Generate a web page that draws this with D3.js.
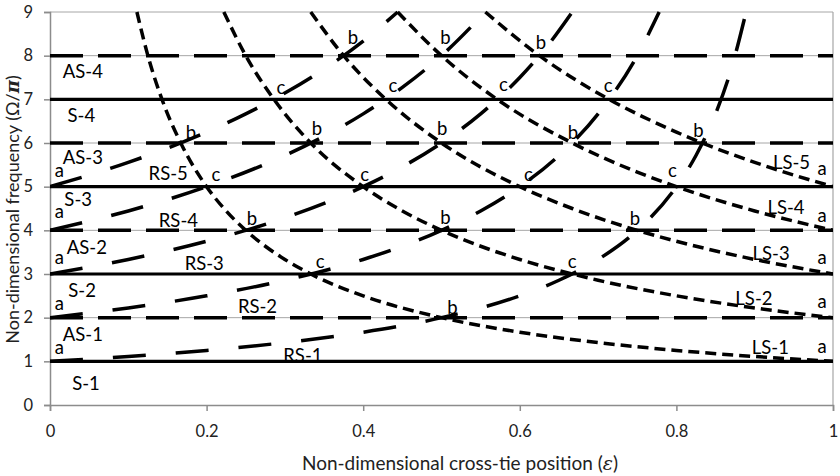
<!DOCTYPE html>
<html>
<head>
<meta charset="utf-8">
<script src="https://cdn.jsdelivr.net/npm/d3@7"></script>
<style>
  body { margin: 0; background: #fff; }
  svg text { font-family: Lato, "Open Sans", sans-serif; }
</style>
</head>
<body>
<div id="chart"></div>
<script>
// tick values and labels
var xTicks = [0, 0.2, 0.4, 0.6, 0.8, 1];
var xTickLabels = ["0", "0.2", "0.4", "0.6", "0.8", "1"];
var yTicks = [0, 1, 2, 3, 4, 5, 6, 7, 8, 9];

// symmetric (solid) and antisymmetric (dashed) modes
var sLevels = [1, 3, 5, 7];
var asLevels = [2, 4, 6, 8];

// right-span curves RS-1..RS-5, [eps, freq]
var rs1 = [[0,1],[0.1,1.111],[0.2,1.25],[0.3,1.429],[0.4,1.667],[0.5,2],[0.6,2.5],[0.65,2.857],[0.7,3.333],[0.75,4],[0.8,5],[0.825,5.714],[0.85,6.667],[0.87,7.692],[0.889,9]];
var rs2 = [[0,2],[0.1,2.222],[0.2,2.5],[0.3,2.857],[0.4,3.333],[0.5,4],[0.55,4.444],[0.6,5],[0.65,5.714],[0.7,6.667],[0.75,8],[0.778,9]];
var rs3 = [[0,3],[0.1,3.333],[0.2,3.75],[0.3,4.286],[0.4,5],[0.45,5.455],[0.5,6],[0.55,6.667],[0.6,7.5],[0.64,8.333],[0.667,9]];
var rs4 = [[0,4],[0.1,4.444],[0.2,5],[0.3,5.714],[0.35,6.154],[0.4,6.667],[0.45,7.273],[0.5,8],[0.556,9]];
var rs5 = [[0,5],[0.1,5.556],[0.15,5.882],[0.2,6.25],[0.25,6.667],[0.3,7.143],[0.35,7.692],[0.4,8.333],[0.444,9]];

// left-span curves LS-1..LS-5
var ls1 = [[0.111,9],[0.125,8],[0.143,7],[0.167,6],[0.2,5],[0.225,4.444],[0.25,4],[0.275,3.636],[0.3,3.333],[0.333,3],[0.4,2.5],[0.5,2],[0.6,1.667],[0.7,1.429],[0.8,1.25],[0.9,1.111],[1,1]];
var ls2 = [[0.222,9],[0.25,8],[0.286,7],[0.333,6],[0.4,5],[0.45,4.444],[0.5,4],[0.6,3.333],[0.667,3],[0.7,2.857],[0.8,2.5],[0.9,2.222],[1,2]];
var ls3 = [[0.333,9],[0.375,8],[0.429,7],[0.5,6],[0.6,5],[0.667,4.5],[0.75,4],[0.8,3.75],[0.9,3.333],[1,3]];
var ls4 = [[0.444,9],[0.5,8],[0.571,7],[0.667,6],[0.75,5.333],[0.8,5],[0.9,4.444],[1,4]];
var ls5 = [[0.556,9],[0.625,8],[0.714,7],[0.8,6.25],[0.833,6],[0.9,5.556],[1,5]];

// curve names and labels [eps, freq, text]
var modeLabels = [
  [0.046,0.50,"S-1"],[0.042,1.61,"AS-1"],[0.041,2.63,"S-2"],[0.047,3.61,"AS-2"],
  [0.036,4.71,"S-3"],[0.042,5.67,"AS-3"],[0.040,6.64,"S-4"],[0.042,7.65,"AS-4"],
  [0.323,1.14,"RS-1"],[0.265,2.26,"RS-2"],[0.197,3.25,"RS-3"],[0.164,4.23,"RS-4"],[0.151,5.31,"RS-5"],
  [0.920,1.32,"LS-1"],[0.899,2.44,"LS-2"],[0.921,3.48,"LS-3"],[0.940,4.53,"LS-4"],[0.947,5.56,"LS-5"]
];
var pointLabels = [
  [0.012,1.28,"a"],[0.012,2.29,"a"],[0.012,3.34,"a"],[0.012,4.39,"a"],[0.012,5.33,"a"],
  [0.986,1.30,"a"],[0.986,2.33,"a"],[0.986,3.34,"a"],[0.986,4.30,"a"],[0.986,5.38,"a"],
  [0.514,2.24,"b"],
  [0.345,3.25,"c"],[0.667,3.25,"c"],
  [0.258,4.28,"b"],[0.505,4.30,"b"],[0.747,4.28,"b"],
  [0.212,5.24,"c"],[0.402,5.24,"c"],[0.611,5.24,"c"],[0.795,5.33,"c"],
  [0.180,6.25,"b"],[0.341,6.34,"b"],[0.501,6.34,"b"],[0.668,6.25,"b"],[0.828,6.30,"b"],
  [0.295,7.23,"c"],[0.438,7.28,"c"],[0.579,7.30,"c"],[0.713,7.28,"c"],
  [0.387,8.41,"b"],[0.505,8.41,"b"],[0.627,8.31,"b"]
];

var W = 840, H = 476;
var m = {left: 50, right: 7, top: 12, bottom: 71};
var w = W - m.left - m.right;
var h = H - m.top - m.bottom;

var svg = d3.select("#chart").append("svg")
  .attr("width", W)
  .attr("height", H);

var g = svg.append("g")
  .attr("transform", "translate(" + m.left + "," + m.top + ")");

var x = d3.scaleLinear().domain([0, 1]).range([0, w]);
var y = d3.scaleLinear().domain([0, 9]).range([h, 0]);

g.append("clipPath").attr("id", "plot-clip")
  .append("rect").attr("x", 0).attr("y", -2).attr("width", w).attr("height", h + 2);

// gridlines
g.append("g").selectAll("line")
  .data(yTicks.slice(1))
  .enter().append("line")
  .attr("x1", 0).attr("x2", w)
  .attr("y1", function(d) { return y(d); })
  .attr("y2", function(d) { return y(d); })
  .attr("stroke", "#a6a6a6")
  .attr("stroke-width", 1);

// right border of plot area
g.append("line")
  .attr("x1", w).attr("x2", w).attr("y1", 0).attr("y2", h)
  .attr("stroke", "#a6a6a6").attr("stroke-width", 1.2);

// axes
var xAxis = g.append("g")
  .attr("transform", "translate(0," + h + ")")
  .call(d3.axisBottom(x).tickValues(xTicks).tickSize(6).tickPadding(14)
    .tickFormat(function(d, i) { return xTickLabels[i]; }));
var yAxis = g.append("g")
  .call(d3.axisLeft(y).tickValues(yTicks).tickSize(6).tickPadding(11));

[xAxis, yAxis].forEach(function(a) {
  a.select(".domain").attr("stroke", "#8c8c8c").attr("stroke-width", 1.5);
  a.selectAll(".tick line").attr("stroke", "#8c8c8c").attr("stroke-width", 1.5);
  a.selectAll(".tick text").attr("fill", "#222").style("font-size", "16.5px")
    .style("font-family", "Lato, 'Open Sans', sans-serif");
});

// horizontal mode lines
g.append("g").selectAll("line")
  .data(sLevels)
  .enter().append("line")
  .attr("x1", 0).attr("x2", w)
  .attr("y1", function(d) { return y(d); })
  .attr("y2", function(d) { return y(d); })
  .attr("stroke", "#000")
  .attr("stroke-width", 3.2);

g.append("g").selectAll("line")
  .data(asLevels)
  .enter().append("line")
  .attr("x1", 0).attr("x2", w)
  .attr("y1", function(d) { return y(d); })
  .attr("y2", function(d) { return y(d); })
  .attr("stroke", "#000")
  .attr("stroke-width", 3.5)
  .attr("stroke-dasharray", "33,15");

// curves
var line = d3.line()
  .x(function(d) { return x(d[0]); })
  .y(function(d) { return y(d[1]); })
  .curve(d3.curveMonotoneX);

var curves = g.append("g").attr("clip-path", "url(#plot-clip)");

curves.selectAll(".rs")
  .data([rs1, rs2, rs3, rs4, rs5])
  .enter().append("path")
  .attr("class", "rs")
  .attr("d", line)
  .attr("fill", "none")
  .attr("stroke", "#000")
  .attr("stroke-width", 3.5)
  .attr("stroke-dasharray", "33,30");

curves.selectAll(".ls")
  .data([ls1, ls2, ls3, ls4, ls5])
  .enter().append("path")
  .attr("class", "ls")
  .attr("d", line)
  .attr("fill", "none")
  .attr("stroke", "#000")
  .attr("stroke-width", 3.5)
  .attr("stroke-dasharray", "11,6");

// labels
g.append("g").selectAll("text")
  .data(modeLabels)
  .enter().append("text")
  .attr("x", function(d) { return x(d[0]); })
  .attr("y", function(d) { return y(d[1]); })
  .attr("dy", "0.36em")
  .attr("text-anchor", "middle")
  .style("font-size", "18.5px")
  .attr("fill", "#000")
  .text(function(d) { return d[2]; });

g.append("g").selectAll("text")
  .data(pointLabels)
  .enter().append("text")
  .attr("x", function(d) { return x(d[0]); })
  .attr("y", function(d) { return y(d[1]); })
  .attr("dy", function(d) { return d[2] == "b" ? "0.36em" : "0.26em"; })
  .attr("text-anchor", "middle")
  .style("font-size", "18.5px")
  .attr("fill", "#000")
  .text(function(d) { return d[2]; });

// axis titles
var xt = svg.append("text")
  .attr("x", 460).attr("y", 470)
  .attr("text-anchor", "middle")
  .attr("fill", "#222")
  .style("font-size", "19px")
  .text("Non-dimensional cross-tie position (");
xt.append("tspan").style("font-family", "'DejaVu Serif', serif").style("font-style", "italic").text("\u03b5");
xt.append("tspan").text(")");

var yt = svg.append("text")
  .attr("transform", "translate(19," + (m.top + h / 2 + 1) + ") rotate(-90)")
  .attr("text-anchor", "middle")
  .attr("fill", "#222")
  .style("font-size", "18px")
  .text("Non-dimensional frequency (\u03a9/");
yt.append("tspan").style("font-family", "'DejaVu Serif', serif").style("font-style", "italic").style("font-weight", "bold").text("\u03c0");
yt.append("tspan").text(")");
</script>
</body>
</html>
